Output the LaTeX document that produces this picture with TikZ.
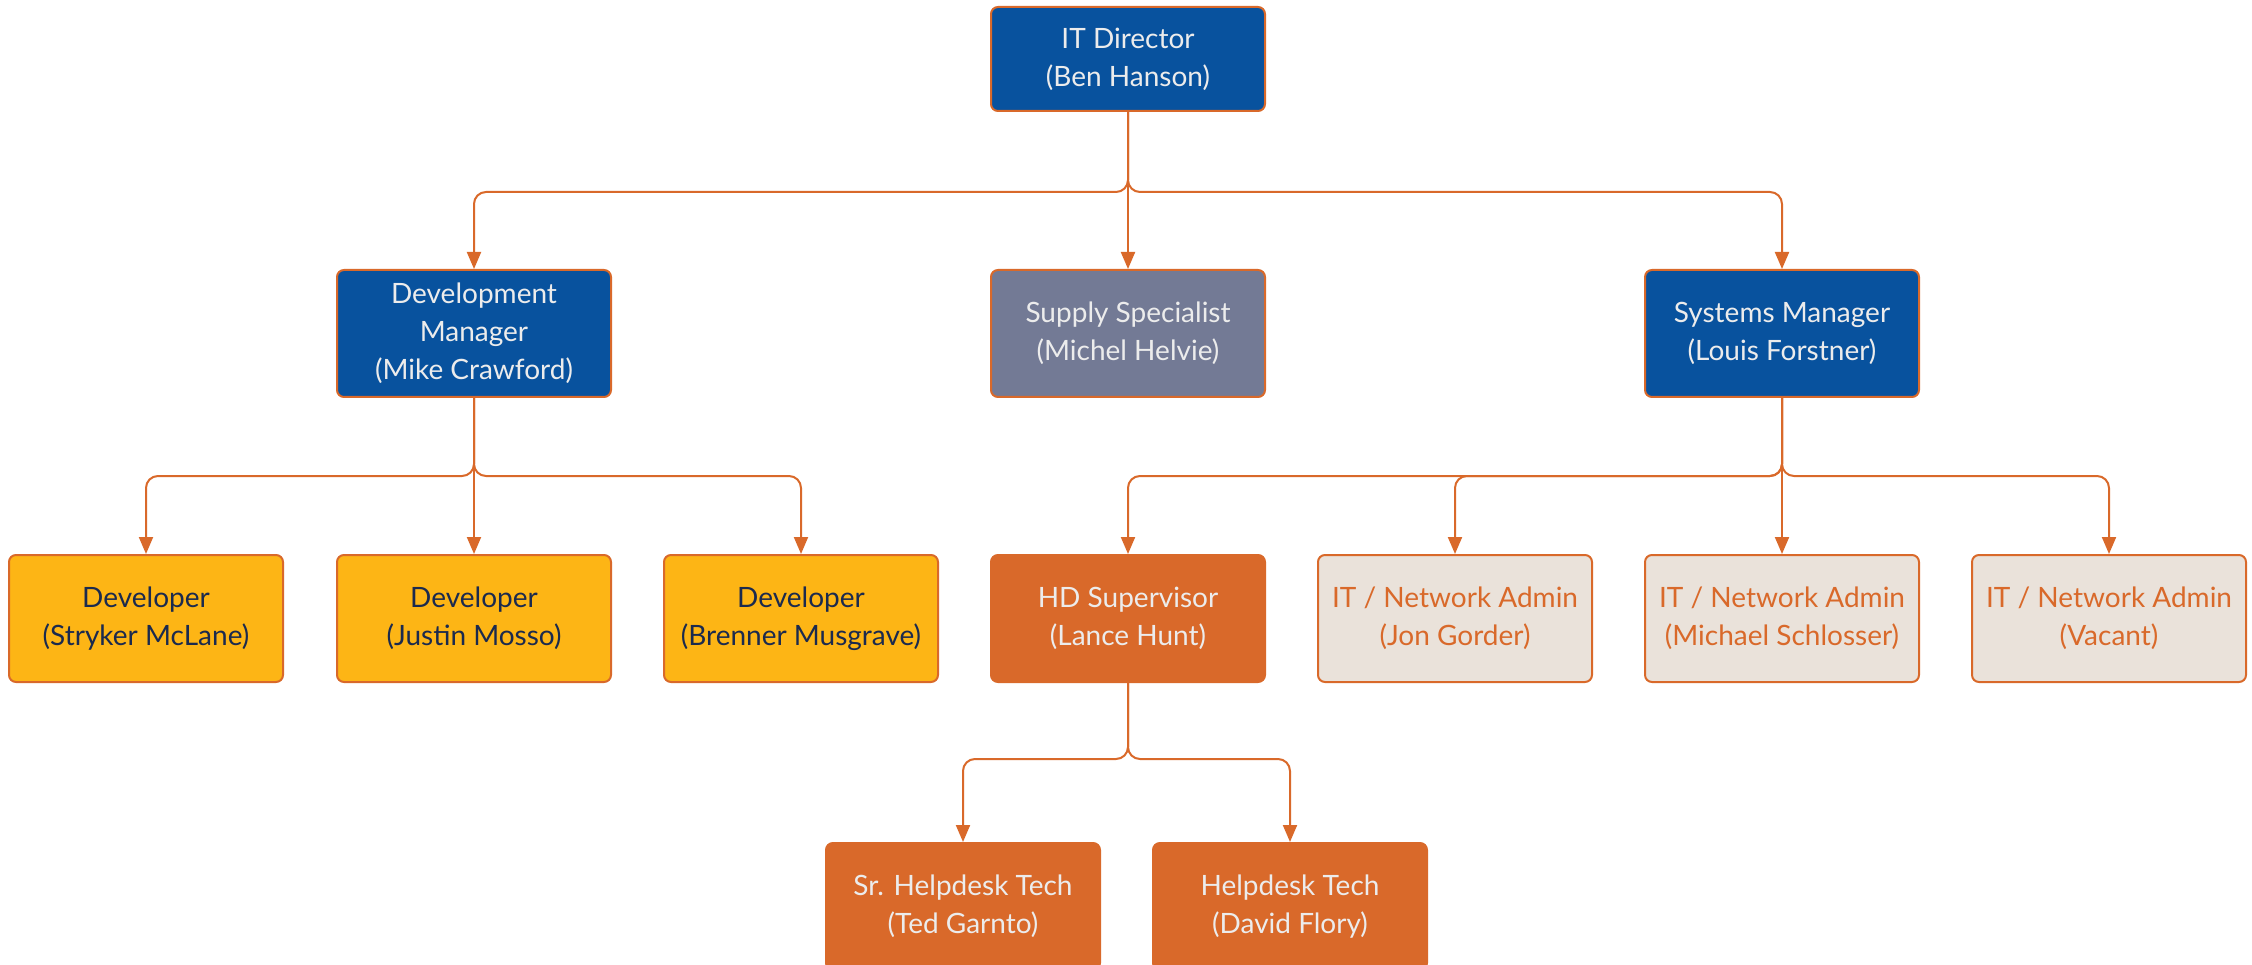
\documentclass[tikz,border=0pt]{standalone}
\usepackage{fontspec}
\setmainfont{Lato}
\usetikzlibrary{arrows.meta}
\definecolor{cblue}{RGB}{8,82,158}
\definecolor{corange}{RGB}{217,105,42}
\definecolor{cyellow}{RGB}{253,181,21}
\definecolor{cslate}{RGB}{115,122,149}
\definecolor{cbeige}{RGB}{234,226,218}
\definecolor{cnavy}{RGB}{27,42,78}
\definecolor{cwhite}{RGB}{236,236,236}
\tikzset{
  box/.style={draw=corange, line width=2pt, rounded corners=7pt, minimum width=274pt,
    minimum height=127pt, align=center, inner sep=0pt,
    font=\fontsize{28}{38}\selectfont},
  bluebox/.style={box, fill=cblue, text=cwhite},
  slatebox/.style={box, fill=cslate, text=cwhite},
  devbox/.style={box, fill=cyellow, text=cnavy},
  orbox/.style={box, fill=corange, text=cwhite},
  adminbox/.style={box, fill=cbeige, text=corange},
  conn/.style={draw=corange, line width=2pt, rounded corners=12pt,
    -{Triangle[length=17pt,width=14pt]}},
}
\begin{document}
\begin{tikzpicture}[x=1pt,y=-1pt]
\useasboundingbox (0,0) rectangle (2252,965);
\node[bluebox, minimum height=104pt] (dir) at (1128,59) {IT Director\\(Ben Hanson)};
\node[bluebox] (devm) at (474,333.5) {Development\\Manager\\(Mike Crawford)};
\node[slatebox] (sup) at (1128,333.5) {Supply Specialist\\(Michel Helvie)};
\node[bluebox] (sysm) at (1782,333.5) {Systems Manager\\(Louis Forstner)};
\node[devbox] (d1) at (146,618.5) {Developer\\(Stryker McLane)};
\node[devbox] (d2) at (474,618.5) {Developer\\(Justin Mosso)};
\node[devbox] (d3) at (801,618.5) {Developer\\(Brenner Musgrave)};
\node[orbox] (hd) at (1128,618.5) {HD Supervisor\\(Lance Hunt)};
\node[adminbox] (a1) at (1455,618.5) {IT / Network Admin\\(Jon Gorder)};
\node[adminbox] (a2) at (1782,618.5) {IT / Network Admin\\(Michael Schlosser)};
\node[adminbox] (a3) at (2109,618.5) {IT / Network Admin\\(Vacant)};
\node[orbox] (t1) at (963,906.5) {Sr. Helpdesk Tech\\(Ted Garnto)};
\node[orbox] (t2) at (1290,906.5) {Helpdesk Tech\\(David Flory)};
% connectors
\draw[conn] (dir.south) -- ++(0,80) -| (devm.north);
\draw[conn] (dir.south) -- (sup.north);
\draw[conn] (dir.south) -- ++(0,80) -| (sysm.north);
\draw[conn] (devm.south) -- ++(0,78) -| (d1.north);
\draw[conn] (devm.south) -- (d2.north);
\draw[conn] (devm.south) -- ++(0,78) -| (d3.north);
\draw[conn] (sysm.south) -- ++(0,78) -| (hd.north);
\draw[conn] (sysm.south) -- ++(0,78) -| (a1.north);
\draw[conn] (sysm.south) -- (a2.north);
\draw[conn] (sysm.south) -- ++(0,78) -| (a3.north);
\draw[conn] (hd.south) -- ++(0,76) -| (t1.north);
\draw[conn] (hd.south) -- ++(0,76) -| (t2.north);
\end{tikzpicture}
\end{document}
